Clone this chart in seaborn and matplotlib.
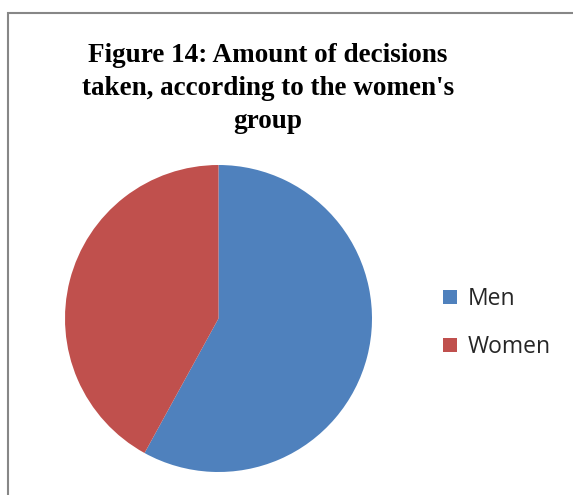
import matplotlib
matplotlib.use("Agg")
import matplotlib.pyplot as plt
import seaborn as sns
from matplotlib.patches import Rectangle

sns.set_theme(style="white")

categories = ["Men", "Women"]
shares = [58, 42]
colors = ["#4F81BD", "#C0504D"]
title_lines = ["Figure 14: Amount of decisions",
               "taken, according to the women's",
               "group"]

W, H = 573, 495
fig = plt.figure(figsize=(W / 100, H / 100), dpi=100)
fig.patch.set_facecolor("white")

# chart frame, running off the right and bottom edges
fig.patches.append(Rectangle((8 / W, -0.1), 1.2, (H - 13) / H + 0.1,
                             transform=fig.transFigure, fill=False,
                             edgecolor="#878787", linewidth=1.5))

cx, cy, r = 218.5, 318.5, 153.5
ax = fig.add_axes([(cx - r) / W, (H - cy - r) / H, 2 * r / W, 2 * r / H])
wedges, _ = ax.pie(shares, colors=colors, startangle=90, counterclock=False,
                   radius=1, wedgeprops=dict(linewidth=0))
ax.set_xlim(-1, 1)
ax.set_ylim(-1, 1)
ax.set_aspect("equal")
ax.axis("off")

for i, line in enumerate(title_lines):
    fig.text(268 / W, 1 - (62 + 33 * i) / H, line, ha="center", va="baseline",
             fontsize=19.5, fontweight="bold", family="Liberation Serif",
             color="black")

fs = 16.5
px = fs * 100 / 72
leg = fig.legend(wedges, categories, loc="center left",
                 bbox_to_anchor=(422 / W, 1 - 323 / H), frameon=False,
                 prop=dict(family="Open Sans", size=fs),
                 handlelength=14 / px, handleheight=14 / px,
                 handletextpad=11 / px, labelspacing=1.05)

fig.savefig("out.png", dpi=100)
